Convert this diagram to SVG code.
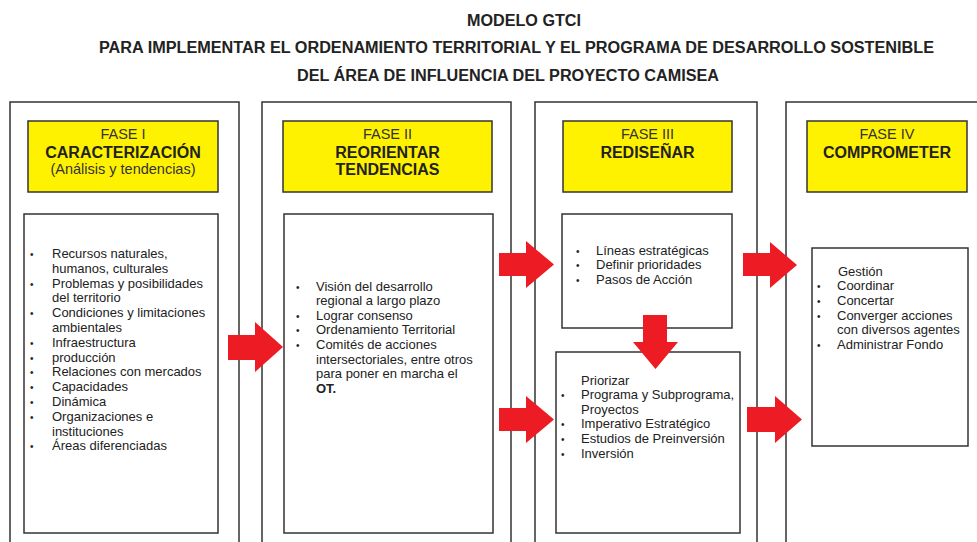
<svg xmlns="http://www.w3.org/2000/svg" width="977" height="542" viewBox="0 0 977 542">
<style>
.col{fill:#fff;stroke:#333;stroke-width:1.5}
.phase{fill:#FFF200;stroke:#333;stroke-width:1.5}
.box{fill:#fff;stroke:#333;stroke-width:1.5}
.title{font-family:"Liberation Sans",Arial,sans-serif;font-weight:bold;font-size:16px;fill:#222;text-anchor:middle}
.fase{font-family:"Liberation Sans",Arial,sans-serif;font-size:14.5px;fill:#333;text-anchor:middle}
.name{font-family:"Liberation Sans",Arial,sans-serif;font-weight:bold;font-size:16px;fill:#222;text-anchor:middle}
.t{font-family:"Liberation Sans",Arial,sans-serif;font-size:13px;fill:#222}
.b{font-family:"Liberation Sans",Arial,sans-serif;font-size:10px;fill:#222}
.arrow{fill:#ED1C24}
</style>
<rect width="977" height="542" fill="#fff"/>
<g id="title">
<text class="title" x="524" y="26" textLength="114" lengthAdjust="spacingAndGlyphs">MODELO GTCI</text>
<text class="title" x="516.5" y="53" textLength="835" lengthAdjust="spacingAndGlyphs">PARA IMPLEMENTAR EL ORDENAMIENTO TERRITORIAL Y EL PROGRAMA DE DESARROLLO SOSTENIBLE</text>
<text class="title" x="508" y="80.5" textLength="422" lengthAdjust="spacingAndGlyphs">DEL ÁREA DE INFLUENCIA DEL PROYECTO CAMISEA</text>
</g>
<g id="fase1">
<rect class="col" x="10" y="102" width="229" height="460"/>
<rect class="phase" x="28" y="121" width="190" height="71"/>
<text class="fase" x="123" y="139">FASE I</text>
<text class="name" x="123" y="157.5">CARACTERIZACIÓN</text>
<text class="fase" x="123" y="174">(Análisis y tendencias)</text>
<rect class="box" x="24" y="214" width="194" height="319"/>
<g class="b">
<text x="30" y="258">•</text><text x="30" y="287.6">•</text><text x="30" y="317.2">•</text><text x="30" y="346.8">•</text><text x="30" y="361.6">•</text><text x="30" y="376.4">•</text><text x="30" y="391.2">•</text><text x="30" y="406">•</text><text x="30" y="420.8">•</text><text x="30" y="450.4">•</text>
</g>
<g class="t">
<text x="52" y="258">Recursos naturales,</text>
<text x="52" y="272.8">humanos, culturales</text>
<text x="52" y="287.6">Problemas y posibilidades</text>
<text x="52" y="302.4">del territorio</text>
<text x="52" y="317.2">Condiciones y limitaciones</text>
<text x="52" y="332">ambientales</text>
<text x="52" y="346.8">Infraestructura</text>
<text x="52" y="361.6">producción</text>
<text x="52" y="376.4">Relaciones con mercados</text>
<text x="52" y="391.2">Capacidades</text>
<text x="52" y="406">Dinámica</text>
<text x="52" y="420.8">Organizaciones e</text>
<text x="52" y="435.6">instituciones</text>
<text x="52" y="450.4">Áreas diferenciadas</text>
</g>
</g>
<g id="fase2">
<rect class="col" x="262" y="102" width="249" height="460"/>
<rect class="phase" x="283" y="121" width="209" height="71"/>
<text class="fase" x="387.5" y="139">FASE II</text>
<text class="name" x="387.5" y="157.5">REORIENTAR</text>
<text class="name" x="387.5" y="175">TENDENCIAS</text>
<rect class="box" x="284" y="214" width="209" height="319"/>
<g class="b">
<text x="296" y="290.5">•</text><text x="296" y="319.7">•</text><text x="296" y="334.3">•</text><text x="296" y="348.9">•</text>
</g>
<g class="t">
<text x="316" y="290.5">Visión del desarrollo</text>
<text x="316" y="305.1">regional a largo plazo</text>
<text x="316" y="319.7">Lograr consenso</text>
<text x="316" y="334.3">Ordenamiento Territorial</text>
<text x="316" y="348.9">Comités de acciones</text>
<text x="316" y="363.5">intersectoriales, entre otros</text>
<text x="316" y="378.1">para poner en marcha el</text>
<text x="316" y="392.7" font-weight="bold">OT.</text>
</g>
</g>
<g id="fase3">
<rect class="col" x="535" y="102" width="222" height="460"/>
<rect class="phase" x="563" y="121" width="169" height="71"/>
<text class="fase" x="647.5" y="139">FASE III</text>
<text class="name" x="647.5" y="157.5">REDISEÑAR</text>
</g>
<g id="fase3-lineas">
<rect class="box" x="562" y="214" width="170" height="114"/>
<g class="b">
<text x="576" y="254.5">•</text><text x="576" y="269">•</text><text x="576" y="283.5">•</text>
</g>
<g class="t">
<text x="596" y="254.5">Líneas estratégicas</text>
<text x="596" y="269">Definir prioridades</text>
<text x="596" y="283.5">Pasos de Acción</text>
</g>
</g>
<g id="fase3-priorizar">
<rect class="box" x="556" y="352" width="184" height="181"/>
<g class="b">
<text x="561" y="399.1">•</text><text x="561" y="428.3">•</text><text x="561" y="442.9">•</text><text x="561" y="457.5">•</text>
</g>
<g class="t">
<text x="581" y="384.5">Priorizar</text>
<text x="581" y="399.1">Programa y Subprograma,</text>
<text x="581" y="413.7">Proyectos</text>
<text x="581" y="428.3">Imperativo Estratégico</text>
<text x="581" y="442.9">Estudios de Preinversión</text>
<text x="581" y="457.5">Inversión</text>
</g>
</g>
<g id="fase4">
<rect class="col" x="786" y="102" width="220" height="460"/>
<rect class="phase" x="807" y="121" width="160" height="71"/>
<text class="fase" x="887" y="139">FASE IV</text>
<text class="name" x="887" y="157.5">COMPROMETER</text>
<rect class="box" x="812" y="248" width="156" height="198"/>
<g class="b">
<text x="817" y="290.2">•</text><text x="817" y="304.9">•</text><text x="817" y="319.6">•</text><text x="817" y="349">•</text>
</g>
<g class="t">
<text x="838" y="275.5">Gestión</text>
<text x="837" y="290.2">Coordinar</text>
<text x="837" y="304.9">Concertar</text>
<text x="837" y="319.6">Converger acciones</text>
<text x="837" y="334.3">con diversos agentes</text>
<text x="837" y="349">Administrar Fondo</text>
</g>
</g>
<g id="connectors">
<polygon class="arrow" points="228,335 255,335 255,322 283,347 255,372 255,360 228,360"/>
<polygon class="arrow" points="499,253 526,253 526,241 554,264.5 526,288 526,276 499,276"/>
<polygon class="arrow" points="499,408 526,408 526,396 554,419.5 526,443 526,431 499,431"/>
<polygon class="arrow" points="643,315 667,315 667,342 678,342 655.5,369 633,342 643,342"/>
<polygon class="arrow" points="743,253 770,253 770,242 797,265 770,288 770,276 743,276"/>
<polygon class="arrow" points="747,407 775,407 775,396 802,419.5 775,443 775,432 747,432"/>
</g>
</svg>
